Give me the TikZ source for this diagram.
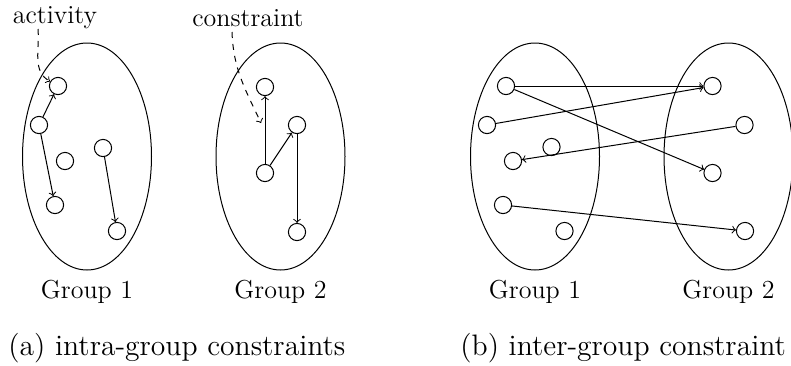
\documentclass[tikz,border=0pt]{standalone}
\usepackage{fontspec}
\begin{document}
\begin{tikzpicture}[x=0.5pt,y=-0.5pt,
  act/.style={circle,draw,minimum size=8.6pt,inner sep=0pt,line width=0.5pt},
  grp/.style={draw,line width=0.5pt},
  con/.style={->,line width=0.5pt},
  lbl/.style={font=\fontsize{13}{15}\selectfont,inner sep=0pt},
  captext/.style={font=\fontsize{14.8}{17}\selectfont,inner sep=0pt},
  ann/.style={->,dashed,line width=0.5pt}]
\useasboundingbox (0,0) rectangle (791,365);
% ---------- (a) ----------
\draw[grp] (87,156.5) ellipse [x radius=64.5, y radius=113.5];
\draw[grp] (280.5,156.5) ellipse [x radius=64.5, y radius=113.5];
\node[act] (c1) at (58,86) {};
\node[act] (c2) at (39,125) {};
\node[act] (c3) at (65,161) {};
\node[act] (c4) at (55,205) {};
\node[act] (c5) at (103,148) {};
\node[act] (c6) at (117,231) {};
\node[act] (d1) at (265,87) {};
\node[act] (d2) at (297,125) {};
\node[act] (d3) at (265,173) {};
\node[act] (d4) at (297,232) {};
\draw[con] (c2) -- (c1);
\draw[con] (c2) -- (c4);
\draw[con] (c5) -- (c6);
\draw[con] (d3) -- (d1);
\draw[con] (d3) -- (d2);
\draw[con] (d2) -- (d4);
\node[lbl] (act) at (55,18) {activity};
\node[lbl] (cst) at (248,18) {constraint};
\coordinate (actstart) at (38,29);
\coordinate (cststart) at (232,32);
\coordinate (cstend) at (261,123);
\draw[ann] (actstart) to[out=-85,in=150] (c1);
\draw[ann] (cststart) to[out=-88,in=115] (cstend);
\node[lbl] (g1a) at (87,292) {Group 1};
\node[lbl] (g2a) at (280.5,292) {Group 2};
\node[captext,anchor=west] (capa) at (8,348) {(a) intra-group constraints};
% ---------- (b) ----------
\draw[grp] (535,156.5) ellipse [x radius=64.5, y radius=113.5];
\draw[grp] (728.5,156.5) ellipse [x radius=64.5, y radius=113.5];
\node[act] (e1) at (506,86) {};
\node[act] (e2) at (487,125) {};
\node[act] (e3) at (551.5,147) {};
\node[act] (e4) at (513,161) {};
\node[act] (e5) at (503,205) {};
\node[act] (e6) at (564.5,231) {};
\node[act] (f1) at (712.5,86) {};
\node[act] (f2) at (744.5,125) {};
\node[act] (f3) at (712.5,173) {};
\node[act] (f4) at (745,231) {};
\draw[con] (e1) -- (f1);
\draw[con] (e2) -- (f1);
\draw[con] (e1) -- (f3);
\draw[con] (f2) -- (e4);
\draw[con] (e5) -- (f4);
\node[lbl] (g1b) at (535,292) {Group 1};
\node[lbl] (g2b) at (728.5,292) {Group 2};
\node[captext,anchor=west] (capb) at (460,348) {(b) inter-group constraint};
\end{tikzpicture}
\end{document}
